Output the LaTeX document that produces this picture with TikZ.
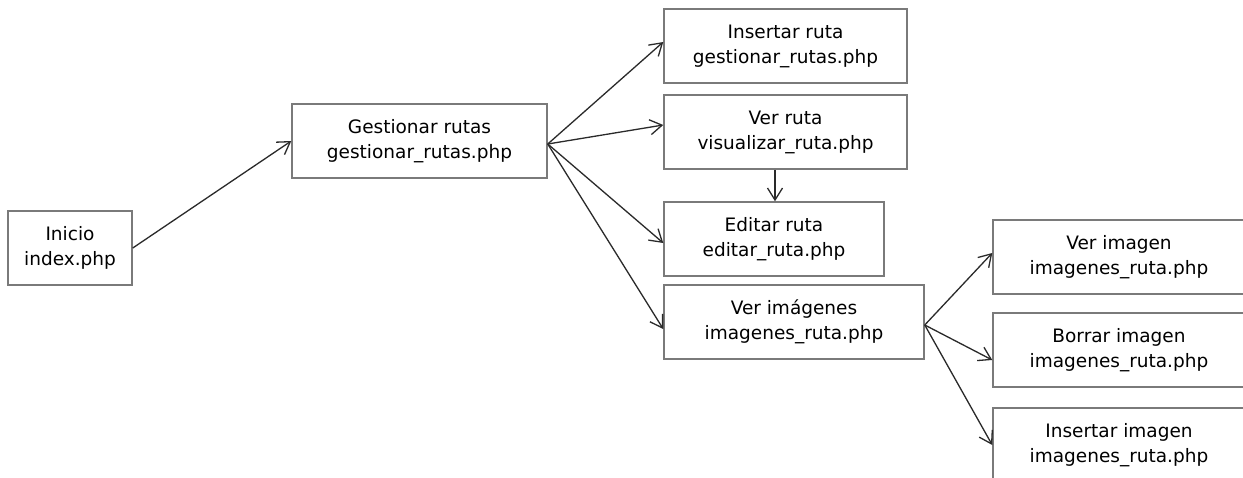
\documentclass[tikz,border=0pt]{standalone}
\usepackage{fontspec}
\setmainfont{DejaVu Sans}
\usetikzlibrary{arrows.meta}
\definecolor{boxline}{HTML}{7A7A7A}
\definecolor{arrline}{HTML}{2A2A2A}
\begin{document}
\begin{tikzpicture}[x=1pt,y=-1pt,
  pagebox/.style={draw=boxline,line width=1.5pt,fill=white,inner sep=0pt,
    font=\fontsize{18.5}{25}\selectfont,align=center,text=black},
  link/.style={draw=arrline,line width=1.3pt,
    -{Straight Barb[length=12pt,width=15pt,line width=1.3pt]}}]
\useasboundingbox (0,0) rectangle (1243,477);
\fill[white] (0,0) rectangle (1243,477);
% boxes: corners in pixels
\node[pagebox,minimum width=124pt,minimum height=74pt] (ini) at (70,248) {Inicio\\index.php};
\node[pagebox,minimum width=255pt,minimum height=74pt] (ges) at (419.5,141) {Gestionar rutas\\gestionar\_rutas.php};
\node[pagebox,minimum width=243pt,minimum height=74pt] (ins) at (785.5,46) {Insertar ruta\\gestionar\_rutas.php};
\node[pagebox,minimum width=243pt,minimum height=74pt] (ver) at (785.5,132) {Ver ruta\\visualizar\_ruta.php};
\node[pagebox,minimum width=220pt,minimum height=74pt] (edi) at (774,239) {Editar ruta\\editar\_ruta.php};
\node[pagebox,minimum width=260pt,minimum height=74pt] (img) at (794,322) {Ver imágenes\\imagenes\_ruta.php};
\node[pagebox,minimum width=252pt,minimum height=74pt] (vim) at (1119,257) {Ver imagen\\imagenes\_ruta.php};
\node[pagebox,minimum width=252pt,minimum height=74pt] (bim) at (1119,350) {Borrar imagen\\imagenes\_ruta.php};
\node[pagebox,minimum width=252pt,minimum height=74pt] (iim) at (1119,445) {Insertar imagen\\imagenes\_ruta.php};
% connectors
\draw[link] (ini.east) -- (ges.west);
\coordinate (gout) at ([yshift=-3pt]ges.east);
\draw[link] (gout) -- ([yshift=4pt]ins.west);
\draw[link] (gout) -- ([yshift=7pt]ver.west);
\draw[link] (gout) -- ([yshift=-4pt]edi.west);
\draw[link] (gout) -- ([yshift=-7pt]img.west);
\draw[link] (ver.south -| edi.north) ++(1,0) coordinate (vs) -- (vs |- edi.north);
\coordinate (iout) at ([yshift=-3pt]img.east);
\draw[link] (iout) -- ([yshift=4pt]vim.west);
\draw[link] (iout) -- ([yshift=-10pt]bim.west);
\draw[link] (iout) -- ([yshift=0pt]iim.west);
\end{tikzpicture}
\end{document}
